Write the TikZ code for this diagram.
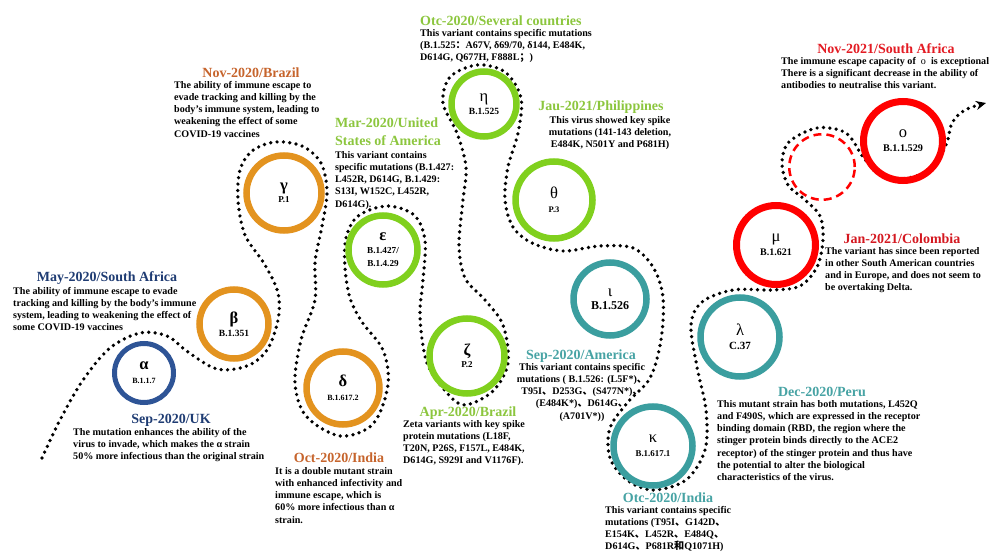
\documentclass[tikz,border=0pt]{standalone}
\usepackage{fontspec}
\setmainfont{Liberation Serif}
\newfontfamily\cjk{Noto Sans CJK SC}
\usetikzlibrary{arrows.meta}
\definecolor{navyT}{HTML}{1F3C73}
\definecolor{alphaC}{HTML}{2E5496}
\definecolor{orangeC}{HTML}{E3931F}
\definecolor{orangeT}{HTML}{C6642C}
\definecolor{greenC}{HTML}{80D01E}
\definecolor{greenT}{HTML}{8CC63E}
\definecolor{tealC}{HTML}{3B9E9F}
\definecolor{tealT}{HTML}{47A3A4}
\definecolor{redC}{HTML}{FF0000}
\definecolor{redT}{HTML}{E31B23}
\definecolor{redT2}{HTML}{D41820}
\newcommand\dun{{\cjk 、}}
\tikzset{
  ring/.style={circle, draw=#1, line width=6.5pt, inner sep=0pt, align=center, font=\bfseries},
  rsz/.style={minimum size=#1pt},
  body/.style={font=\fontsize{10.1}{12.2}\selectfont\bfseries, align=left, inner sep=0pt, text=black},
  cbody/.style={font=\fontsize{10.1}{12.2}\selectfont\bfseries, align=center, inner sep=0pt, text=black},
  ttl/.style={font=\fontsize{14}{17}\selectfont\bfseries, inner sep=0pt, text=#1},
  dotpath/.style={line width=3.7pt, dash pattern=on 0pt off 6.4pt, line cap=round},
}
\newcommand\GB[1]{{\fontsize{16.5}{16}\selectfont\bfseries #1}}
\newcommand\GR[1]{{\fontsize{16.5}{16}\selectfont\mdseries #1}}
\newcommand\CD[2]{{\fontsize{#1}{#1}\selectfont\bfseries #2}}
\begin{document}
\begin{tikzpicture}[x=1pt,y=-1pt]
\useasboundingbox (0,0) rectangle (990,556);

% dotted winding path
\draw[dotpath,-{Stealth[length=10pt,width=9pt]}] plot[smooth,tension=0.55] coordinates {
 (42,458) (60,420) (83,380) (110,348) (140,333) (167,336) (188,352) (217,369)
 (247,366) (267,350) (278,320) (278,293) (265,265) (245,235) (238,200) (240,170)
 (252,151) (275,142) (302,146) (321,163) (327,192) (322,226) (315,262) (315,300)
 (301,340) (295,383) (306,416) (340,436) (373,424) (388,385) (383,350) (362,322)
 (350,298) (345,268) (346,238) (358,216) (387,206) (414,215) (425,240) (423,280)
 (420,317) (427,363) (447,393) (465,405) (493,391) (508,363) (503,325) (485,300)
 (465,278) (459,245) (463,200) (466,167) (457,133) (443,103) (450,77) (477,65)
 (505,72) (521,98) (518,133) (508,167) (505,200) (513,227) (532,243) (563,251)
 (600,246) (633,248) (653,267) (663,297) (661,340) (650,378) (628,402) (610,428)
 (610,458) (627,480) (653,490) (686,480) (705,450) (706,410) (697,367) (691,325)
 (702,302) (733,290) (773,290) (800,286) (817,267) (823,240) (820,216) (804,199)
 (788,185) (782,163) (789,142) (817,128) (846,133) (863,157) (878,173) (901,179)
 (930,170) (946,145) (952,123) (965,110) (986,103)};

% rings
\node[ring=alphaC, line width=5pt, rsz=59] (alpha) at (144,373) {\GB{α}\\[2pt]\CD{8}{B.1.1.7}};
\node[ring=orangeC, rsz=69] (beta) at (234,324) {\GB{β}\\[1pt]\CD{9.5}{B.1.351}};
\node[ring=orangeC, rsz=75] (gamma) at (284,193) {\GB{γ}\\[0pt]\CD{9}{P.1}};
\node[ring=orangeC, rsz=73] (delta) at (343,388) {\GB{δ}\\[2pt]\CD{8}{B.1.617.2}};
\node[ring=greenC, rsz=69] (eps) at (383,250) {\GB{ε}\\[1pt]\CD{9.2}{B.1.427/}\\[1pt]\CD{9.2}{B.1.4.29}};
\node[ring=greenC, rsz=75] (zeta) at (467,356) {\GB{ζ}\\[0pt]\CD{9}{P.2}};
\node[ring=greenC, rsz=65] (eta) at (484,104) {\GR{η}\\[1pt]\CD{9.5}{B.1.525}};
\node[ring=greenC, rsz=77] (theta) at (554,200) {\GR{θ}\\[2pt]\CD{8.5}{P.3}};
\node[ring=tealC, rsz=73] (iota) at (610,299) {\GR{ι}\\[1pt]\CD{12}{B.1.526}};
\node[ring=tealC, rsz=79] (kappa) at (653,446) {\GR{κ}\\[2pt]\CD{8.9}{B.1.617.1}};
\node[ring=tealC, rsz=79] (lambda) at (740,337) {\GR{λ}\\[2pt]\CD{11}{C.37}};
\node[ring=redC, line width=7pt, rsz=79] (mu) at (776,245) {\GR{μ}\\[2pt]\CD{10}{B.1.621}};
\node[circle, draw=redC, line width=2.5pt, dash pattern=on 8pt off 5pt, rsz=65.5] (ghost) at (822,167) {};
\node[ring=redC, line width=7pt, rsz=79] (omicron) at (903,141) {\GR{ο}\\[2pt]\CD{10.2}{B.1.1.529}};

% annotations
\node[ttl=navyT] (tA) at (107,278) {May-2020/South Africa};
\node[body, anchor=north west] (bA) at (13,287) {The ability of immune escape to evade\\tracking and killing by the body's immune\\system, leading to weakening the effect of\\some COVID-19 vaccines};

\node[ttl=navyT] (tB) at (171,420) {Sep-2020/UK};
\node[body, anchor=north west] (bB) at (73,428) {The mutation enhances the ability of the\\virus to invade, which makes the α strain\\50\% more infectious than the original strain};

\node[ttl=orangeT] (tC) at (251,73) {Nov-2020/Brazil};
\node[body, anchor=north west] (bC) at (174,81) {The ability of immune escape to\\evade tracking and killing by the\\body's immune system, leading to\\weakening the effect of some\\COVID-19 vaccines};

\node[ttl=greenT, align=left, anchor=north west, font=\fontsize{14}{18}\selectfont\bfseries] (tD) at (335,118) {Mar-2020/United\\States of America};
\node[body, anchor=north west] (bD) at (335,151) {This variant contains\\specific mutations (B.1.427:\\L452R, D614G, B.1.429:\\S13I, W152C, L452R,\\D614G).};

\node[ttl=greenT, anchor=west] (tE) at (420,21) {Otc-2020/Several countries};
\node[body, anchor=north west] (bE) at (420,29) {This variant contains specific mutations\\(B.1.525{\cjk ：}A67V, δ69/70, δ144, E484K,\\D614G, Q677H, F888L{\cjk ；})};

\node[ttl=greenT] (tF) at (601,107) {Jau-2021/Philippines};
\node[cbody, anchor=north] (bF) at (610,116) {This virus showed key spike\\mutations (141-143 deletion,\\E484K, N501Y and P681H)};

\node[ttl=greenT] (tG) at (468,413) {Apr-2020/Brazil};
\node[body, anchor=north west] (bG) at (403,420) {Zeta variants with key spike\\protein mutations (L18F,\\T20N, P26S, F157L, E484K,\\D614G, S929I and V1176F).};

\node[ttl=orangeT] (tH) at (339,458) {Oct-2020/India};
\node[body, anchor=north west] (bH) at (275,467) {It is a double mutant strain\\with enhanced infectivity and\\immune escape, which is\\60\% more infectious than α\\strain.};

\node[ttl=tealT] (tI) at (581,356) {Sep-2020/America};
\node[cbody, anchor=north] (bI) at (582,363) {This variant contains specific\\mutations ( B.1.526: (L5F*)\dun\\T95I\dun D253G\dun (S477N*)\dun\\(E484K*)\dun D614G\dun\\(A701V*))};

\node[ttl=tealT] (tJ) at (668,498) {Otc-2020/India};
\node[body, anchor=north west] (bJ) at (605,506) {This variant contains specific\\mutations (T95I\dun G142D\dun\\E154K\dun L452R\dun E484Q\dun\\D614G\dun P681R{\cjk 和}Q1071H)};

\node[ttl=tealT] (tK) at (822,392) {Dec-2020/Peru};
\node[body, anchor=north west] (bK) at (717,400) {This mutant strain has both mutations, L452Q\\and F490S, which are expressed in the receptor\\binding domain (RBD, the region where the\\stinger protein binds directly to the ACE2\\receptor) of the stinger protein and thus have\\the potential to alter the biological\\characteristics of the virus.};

\node[ttl=redT2] (tL) at (902,239) {Jan-2021/Colombia};
\node[body, anchor=north west] (bL) at (825,247) {The variant has since been reported\\in other South American countries\\and in Europe, and does not seem to\\be overtaking Delta.};

\node[ttl=redT] (tM) at (886,49) {Nov-2021/South Africa};
\node[body, anchor=north west] (bM) at (781,57) {The immune escape capacity of ~{\mdseries ο}~ is exceptional\\There is a significant decrease in the ability of\\antibodies to neutralise this variant.};
\end{tikzpicture}
\end{document}
